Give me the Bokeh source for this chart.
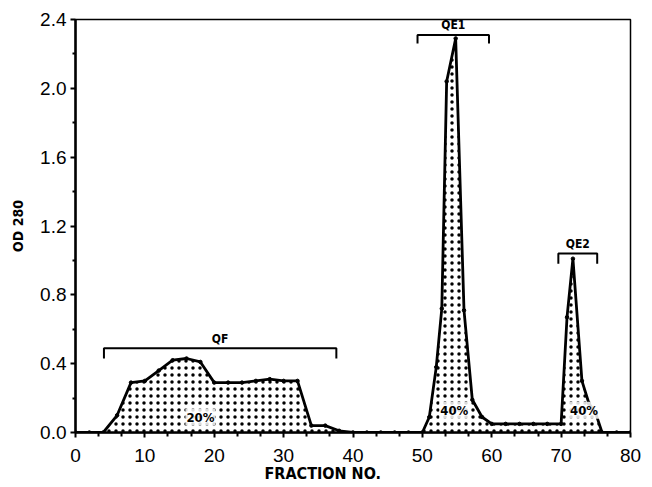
from bokeh.plotting import figure
from bokeh.models import FixedTicker, Label, Title
from bokeh.embed import file_html
from bokeh.resources import INLINE

# ---- data ----
fraction = [0, 2, 4, 6, 8, 10, 12, 14, 16, 18, 20, 22, 24, 26, 28, 30, 32, 34, 36, 38,
            40, 42, 44, 46, 48, 50, 51, 52, 52.8, 53.5, 54.8, 56, 57.2, 58.6, 60,
            62, 64, 66, 68, 70, 70.85, 71.7, 73, 74, 75, 75.9, 78, 80]
od280 = [0, 0, 0, 0.10, 0.29, 0.30, 0.36, 0.42, 0.43, 0.41, 0.29, 0.29, 0.29, 0.30, 0.31, 0.30, 0.30, 0.04, 0.04, 0.01,
         0, 0, 0, 0, 0, 0, 0.09, 0.38, 0.72, 2.04, 2.29, 0.71, 0.19, 0.09, 0.05,
         0.05, 0.05, 0.05, 0.05, 0.05, 0.67, 1.01, 0.30, 0.17, 0.11, 0, 0, 0]

bracket_names = ["QF", "QE1", "QE2"]
bracket_start = [4.1, 49.3, 69.6]
bracket_end = [37.6, 59.6, 75.2]
bracket_level = [0.49, 2.31, 1.04]
bracket_drop = [0.06, 0.05, 0.06]

pct_labels = ["20%", "40%", "40%"]
pct_x = [18.0, 54.6, 73.3]
pct_y = [0.09, 0.13, 0.13]

x_ticks = [0, 10, 20, 30, 40, 50, 60, 70, 80]
x_tick_labels = ["0", "10", "20", "30", "40", "50", "60", "70", "80"]
y_ticks = [0.0, 0.4, 0.8, 1.2, 1.6, 2.0, 2.4]
y_tick_labels = ["0.0", "0.4", "0.8", "1.2", "1.6", "2.0", "2.4"]
y_minor = [0.2, 0.6, 1.0, 1.4, 1.8, 2.2]
x_minor = [3.33, 6.67, 13.33, 16.67, 23.33, 26.67, 33.33, 36.67, 43.33, 46.67,
           53.33, 56.67, 63.33, 66.67, 73.33, 76.67]

x_label = "FRACTION NO."
y_label = "OD 280"

p = figure(width=650, height=486, x_range=(0, 80), y_range=(0, 2.4),
           output_backend="svg", toolbar_location=None,
           min_border_left=75, min_border_right=20, min_border_top=19, min_border_bottom=54)
p.background_fill_color = "white"
p.border_fill_color = "white"
p.outline_line_color = "black"
p.outline_line_width = 1.5
p.grid.visible = False

# filled area with dotted pattern
p.varea(x=fraction, y1=[0] * len(fraction), y2=od280, fill_color="white", fill_alpha=1,
        hatch_pattern="dot", hatch_color="black", hatch_scale=7, hatch_weight=2)
p.line(fraction, od280, line_color="black", line_width=2.8)
p.scatter(fraction, od280, size=3.5, color="black")

# brackets
for name, xs, xe, yl, dr in zip(bracket_names, bracket_start, bracket_end, bracket_level, bracket_drop):
    p.line([xs, xs, xe, xe], [yl - dr, yl, yl, yl - dr], line_color="black", line_width=2)
    p.add_layout(Label(x=(xs + xe) / 2, y=yl + 0.015, text=name, text_align="center",
                       text_baseline="bottom", text_font="DejaVu Sans Condensed", text_font_style="bold",
                       text_font_size="12px", text_color="black"))

for t, x, y in zip(pct_labels, pct_x, pct_y):
    p.add_layout(Label(x=x, y=y, text=t, text_align="center", text_baseline="middle",
                       text_font="DejaVu Sans Condensed", text_font_style="bold",
                       text_font_size="13px", text_color="black",
                       background_fill_color="white", background_fill_alpha=0.85,
                       border_line_color=None, padding=1))

# axes
p.xaxis.ticker = FixedTicker(ticks=x_ticks, minor_ticks=x_minor)
p.yaxis.ticker = FixedTicker(ticks=y_ticks, minor_ticks=y_minor)
p.xaxis.major_label_overrides = dict(zip(x_ticks, x_tick_labels))
p.yaxis.major_label_overrides = dict(zip(y_ticks, y_tick_labels))

for ax in (p.xaxis[0], p.yaxis[0]):
    ax.axis_line_color = "black"
    ax.axis_line_width = 2.5
    ax.major_tick_line_color = "black"
    ax.major_tick_line_width = 2
    ax.minor_tick_line_color = "black"
    ax.minor_tick_line_width = 2
    ax.major_tick_in = 0
    ax.minor_tick_in = 0
    ax.major_label_text_font = "Liberation Sans"
    ax.major_label_text_font_size = "19px"
    ax.major_label_text_color = "black"

p.xaxis.major_tick_out = 5
p.xaxis.minor_tick_out = 4
p.xaxis.major_label_standoff = 11
p.yaxis.major_tick_out = 5
p.yaxis.minor_tick_out = 3
p.yaxis.major_label_standoff = 4

p.yaxis.axis_label = y_label
p.yaxis.axis_label_text_font = "DejaVu Sans Condensed"
p.yaxis.axis_label_text_font_style = "bold"
p.yaxis.axis_label_text_font_size = "14px"
p.yaxis.axis_label_standoff = 11
p.yaxis.axis_label_text_color = "black"

# x-axis title, placed off-centre as in the original
p.add_layout(Title(text=x_label, align="left", offset=189, standoff=-2, vertical_align="top",
                   text_font="DejaVu Sans Condensed", text_font_style="bold",
                   text_font_size="16px", text_color="black"), "below")

open("out.html", "w").write(file_html(p, INLINE))
